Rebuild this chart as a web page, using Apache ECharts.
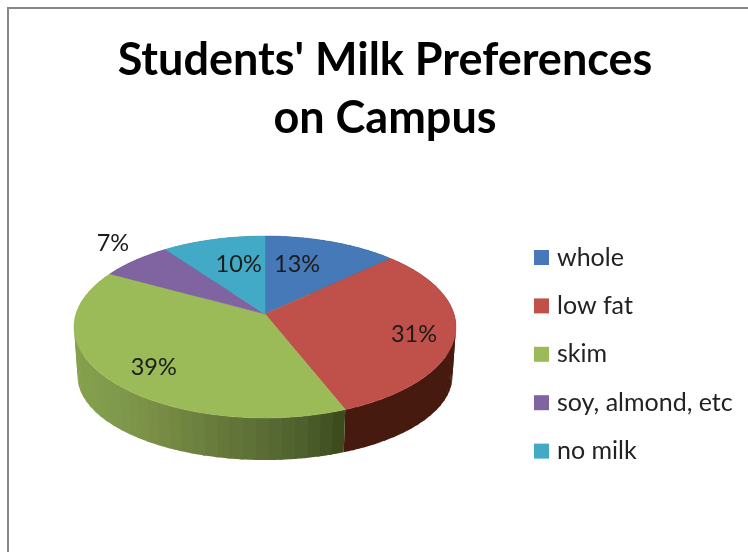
<!DOCTYPE html>
<html>
<head>
<meta charset="utf-8">
<style>html,body{margin:0;padding:0;background:#fff}#c{width:748px;height:552px}</style>
<script src="https://cdn.jsdelivr.net/npm/echarts@6/dist/echarts.min.js"></script>
</head>
<body>
<div id="c"></div>
<script>
var titleText = "Students' Milk Preferences\non Campus";
var categories = ['whole', 'low fat', 'skim', 'soy, almond, etc', 'no milk'];
var values = [13, 31, 39, 7, 10];

var topColors = ['#4579b8', '#c0504a', '#9bbb59', '#8064a2', '#42aac6'];
// wall shading, left to right across the wall's horizontal span
var wallPalettes = [
  ['#2a4a70', '#2a4a70'],
  ['#471a10', '#471a10'],
  ['#85a04c', '#7f9a4c', '#7a8e45', '#6e8240', '#637638', '#5a6c34', '#4b5e2c', '#3c4a1b'],
  ['#4c3b61', '#4c3b61'],
  ['#2a6a7a', '#2a6a7a']
];
var wallSpan = [78, 344];
// label nudges relative to the wedge's mid-angle anchor
var labelNudges = [[-16, 3], [17, 7], [-5, 9], [-59, -32], [11, 5]];

// projection of the tilted disc; the lower rim is a slightly smaller, flatter copy
var P = { cx: 265, cy: 314, a: 189, b: 89.1, k: 1 / 7, lowerCy: 364, lowerA: 185.5, lowerB: 82.3 };
var STRIP = 0.06, OVERLAP = 0.015;
var total = values.reduce(function (s, v) { return s + v; }, 0);

function project(theta, r, lower) {
  var s = Math.sin(theta) * r, c = Math.cos(theta) * r, d = 1 + P.k * c;
  var a = lower ? P.lowerA : P.a, b = lower ? P.lowerB : P.b, y0 = lower ? P.lowerCy : P.cy;
  return [P.cx + a * s / d, y0 - b * c / d];
}
function arc(a0, a1, lower) {
  var pts = [], n = Math.max(2, Math.ceil(Math.abs(a1 - a0) / 0.01));
  for (var i = 0; i <= n; i++) pts.push(project(a0 + (a1 - a0) * i / n, 1, lower));
  return pts;
}
function startOf(i) {
  var s = 0;
  for (var j = 0; j < i; j++) s += values[j];
  return s / total * Math.PI * 2;
}
function wallStrips(i, a0, a1) {
  var out = [], n = Math.ceil((a1 - a0) / STRIP), step = (a1 - a0) / n;
  for (var j = 0; j < n; j++) {
    var s0 = a0 + j * step, s1 = s0 + step, e = j < n - 1 ? s1 + OVERLAP : s1;
    var pts = arc(s0, e, false).concat(arc(e, s0, true));
    var x = project((s0 + s1) / 2, 1, false)[0];
    var t = Math.min(1, Math.max(0, (x - wallSpan[0]) / (wallSpan[1] - wallSpan[0])));
    out.push({ type: 'polygon', z2: 1, silent: true, shape: { points: pts },
      style: { fill: echarts.color.lerp(t, wallPalettes[i]), stroke: null } });
  }
  return out;
}
function renderSlice(params, api) {
  var i = params.seriesIndex, v = api.value(0);
  var a0 = startOf(i), a1 = a0 + v / total * Math.PI * 2, mid = (a0 + a1) / 2;
  var anchor = project(mid, 0.7, false);
  return {
    type: 'group',
    children: wallStrips(i, a0, a1).concat([
      { type: 'polygon', z2: 2, silent: true,
        shape: { points: [[P.cx, P.cy]].concat(arc(a0, a1, false)) },
        style: { fill: topColors[i], stroke: topColors[i], lineWidth: 0.5 } },
      { type: 'text', z2: 3, silent: true,
        style: {
          x: anchor[0] + labelNudges[i][0], y: anchor[1] + labelNudges[i][1],
          text: Math.round(v / total * 100) + '%',
          fill: '#1c1c1c', font: '23.5px Lato', align: 'center', verticalAlign: 'middle'
        } }
    ])
  };
}

var chart = echarts.init(document.getElementById('c'), null, { renderer: 'canvas' });
chart.setOption({
  animation: false,
  backgroundColor: '#fff',
  title: {
    text: titleText, left: 380, top: 26, textAlign: 'center',
    textStyle: { fontFamily: 'Lato', fontWeight: 'bold', fontSize: 45, lineHeight: 58, color: '#000' }
  },
  legend: {
    orient: 'vertical', left: 529, top: 240,
    icon: 'rect', itemWidth: 15, itemHeight: 15, itemGap: 23.4,
    data: categories, selectedMode: false,
    textStyle: { fontFamily: 'Lato', fontSize: 25, color: '#222', padding: [0, 0, 0, 3] }
  },
  graphic: [{
    type: 'rect', z: -10, silent: true,
    shape: { x: 8, y: 8, width: 900, height: 900 },
    style: { fill: '#fff', stroke: '#888', lineWidth: 2 }
  }],
  series: categories.map(function (name, i) {
    return {
      type: 'custom', name: name, coordinateSystem: 'none',
      renderItem: renderSlice, data: [[values[i]]],
      itemStyle: { color: topColors[i] }, silent: true
    };
  })
});
</script>
</body>
</html>
